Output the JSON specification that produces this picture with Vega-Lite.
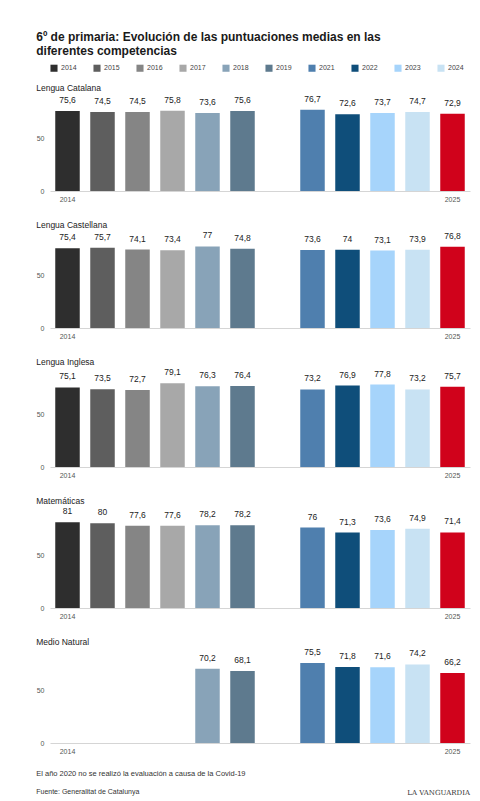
{
  "$schema": "https://vega.github.io/schema/vega-lite/v6.json",
  "background": "white",
  "padding": {"left": 36, "top": 31, "right": 4, "bottom": 0},
  "title": {
    "text": ["6º de primaria: Evolución de las puntuaciones medias en las", "diferentes competencias"],
    "anchor": "start", "fontSize": 12, "fontWeight": "bold", "font": "Liberation Sans", "color": "#1a1a1a", "lineHeight": 14, "offset": 6
  },
  "datasets": {
    "d": [
      {"comp": "Lengua Catalana", "year": "2014", "value": 75.6},
      {"comp": "Lengua Catalana", "year": "2015", "value": 74.5},
      {"comp": "Lengua Catalana", "year": "2016", "value": 74.5},
      {"comp": "Lengua Catalana", "year": "2017", "value": 75.8},
      {"comp": "Lengua Catalana", "year": "2018", "value": 73.6},
      {"comp": "Lengua Catalana", "year": "2019", "value": 75.6},
      {"comp": "Lengua Catalana", "year": "2021", "value": 76.7},
      {"comp": "Lengua Catalana", "year": "2022", "value": 72.6},
      {"comp": "Lengua Catalana", "year": "2023", "value": 73.7},
      {"comp": "Lengua Catalana", "year": "2024", "value": 74.7},
      {"comp": "Lengua Catalana", "year": "2025", "value": 72.9},
      {"comp": "Lengua Castellana", "year": "2014", "value": 75.4},
      {"comp": "Lengua Castellana", "year": "2015", "value": 75.7},
      {"comp": "Lengua Castellana", "year": "2016", "value": 74.1},
      {"comp": "Lengua Castellana", "year": "2017", "value": 73.4},
      {"comp": "Lengua Castellana", "year": "2018", "value": 77},
      {"comp": "Lengua Castellana", "year": "2019", "value": 74.8},
      {"comp": "Lengua Castellana", "year": "2021", "value": 73.6},
      {"comp": "Lengua Castellana", "year": "2022", "value": 74},
      {"comp": "Lengua Castellana", "year": "2023", "value": 73.1},
      {"comp": "Lengua Castellana", "year": "2024", "value": 73.9},
      {"comp": "Lengua Castellana", "year": "2025", "value": 76.8},
      {"comp": "Lengua Inglesa", "year": "2014", "value": 75.1},
      {"comp": "Lengua Inglesa", "year": "2015", "value": 73.5},
      {"comp": "Lengua Inglesa", "year": "2016", "value": 72.7},
      {"comp": "Lengua Inglesa", "year": "2017", "value": 79.1},
      {"comp": "Lengua Inglesa", "year": "2018", "value": 76.3},
      {"comp": "Lengua Inglesa", "year": "2019", "value": 76.4},
      {"comp": "Lengua Inglesa", "year": "2021", "value": 73.2},
      {"comp": "Lengua Inglesa", "year": "2022", "value": 76.9},
      {"comp": "Lengua Inglesa", "year": "2023", "value": 77.8},
      {"comp": "Lengua Inglesa", "year": "2024", "value": 73.2},
      {"comp": "Lengua Inglesa", "year": "2025", "value": 75.7},
      {"comp": "Matemáticas", "year": "2014", "value": 81},
      {"comp": "Matemáticas", "year": "2015", "value": 80},
      {"comp": "Matemáticas", "year": "2016", "value": 77.6},
      {"comp": "Matemáticas", "year": "2017", "value": 77.6},
      {"comp": "Matemáticas", "year": "2018", "value": 78.2},
      {"comp": "Matemáticas", "year": "2019", "value": 78.2},
      {"comp": "Matemáticas", "year": "2021", "value": 76},
      {"comp": "Matemáticas", "year": "2022", "value": 71.3},
      {"comp": "Matemáticas", "year": "2023", "value": 73.6},
      {"comp": "Matemáticas", "year": "2024", "value": 74.9},
      {"comp": "Matemáticas", "year": "2025", "value": 71.4},
      {"comp": "Medio Natural", "year": "2018", "value": 70.2},
      {"comp": "Medio Natural", "year": "2019", "value": 68.1},
      {"comp": "Medio Natural", "year": "2021", "value": 75.5},
      {"comp": "Medio Natural", "year": "2022", "value": 71.8},
      {"comp": "Medio Natural", "year": "2023", "value": 71.6},
      {"comp": "Medio Natural", "year": "2024", "value": 74.2},
      {"comp": "Medio Natural", "year": "2025", "value": 66.2}
    ]
  },
  "spacing": 18,
  "vconcat": [
    {
      "title": "Lengua Catalana",
      "width": 420, "height": 90,
      "data": {"name": "d"},
      "transform": [{"filter": "datum.comp === 'Lengua Catalana'"}],
      "encoding": {
        "x": {"field": "year", "type": "nominal", "scale": {"domain": ["2014","2015","2016","2017","2018","2019","2020","2021","2022","2023","2024","2025"], "paddingInner": 0.3, "paddingOuter": 0.15}},
        "y": {"field": "value", "type": "quantitative", "scale": {"domain": [0, 85]}, "axis": {"values": [0, 50]}}
      },
      "layer": [
        {"mark": {"type": "bar"}, "encoding": {"color": {"field": "year", "type": "nominal", "scale": {"domain": ["2014","2015","2016","2017","2018","2019","2021","2022","2023","2024","2025"], "range": ["#2e2e2e","#5e5e5e","#858585","#a8a8a8","#88a3b8","#5e7a8e","#4f7fae","#0f4e7a","#a6d4fb","#c8e2f3","#d0021b"]}, "legend": {"values": ["2014","2015","2016","2017","2018","2019","2021","2022","2023","2024"]}}}},
        {"mark": {"type": "text", "dy": -6, "baseline": "bottom", "fontSize": 8.5, "color": "#222", "font": "Liberation Sans"}, "encoding": {"text": {"field": "value", "type": "quantitative", "format": ".1~f"}}}
      ]
    },
    {
      "title": "Lengua Castellana",
      "width": 420, "height": 90,
      "data": {"name": "d"},
      "transform": [{"filter": "datum.comp === 'Lengua Castellana'"}],
      "encoding": {
        "x": {"field": "year", "type": "nominal", "scale": {"domain": ["2014","2015","2016","2017","2018","2019","2020","2021","2022","2023","2024","2025"], "paddingInner": 0.3, "paddingOuter": 0.15}},
        "y": {"field": "value", "type": "quantitative", "scale": {"domain": [0, 85]}, "axis": {"values": [0, 50]}}
      },
      "layer": [
        {"mark": {"type": "bar"}, "encoding": {"color": {"field": "year", "type": "nominal"}}},
        {"mark": {"type": "text", "dy": -6, "baseline": "bottom", "fontSize": 8.5, "color": "#222", "font": "Liberation Sans"}, "encoding": {"text": {"field": "value", "type": "quantitative", "format": ".1~f"}}}
      ]
    },
    {
      "title": "Lengua Inglesa",
      "width": 420, "height": 90,
      "data": {"name": "d"},
      "transform": [{"filter": "datum.comp === 'Lengua Inglesa'"}],
      "encoding": {
        "x": {"field": "year", "type": "nominal", "scale": {"domain": ["2014","2015","2016","2017","2018","2019","2020","2021","2022","2023","2024","2025"], "paddingInner": 0.3, "paddingOuter": 0.15}},
        "y": {"field": "value", "type": "quantitative", "scale": {"domain": [0, 85]}, "axis": {"values": [0, 50]}}
      },
      "layer": [
        {"mark": {"type": "bar"}, "encoding": {"color": {"field": "year", "type": "nominal"}}},
        {"mark": {"type": "text", "dy": -6, "baseline": "bottom", "fontSize": 8.5, "color": "#222", "font": "Liberation Sans"}, "encoding": {"text": {"field": "value", "type": "quantitative", "format": ".1~f"}}}
      ]
    },
    {
      "title": "Matemáticas",
      "width": 420, "height": 90,
      "data": {"name": "d"},
      "transform": [{"filter": "datum.comp === 'Matemáticas'"}],
      "encoding": {
        "x": {"field": "year", "type": "nominal", "scale": {"domain": ["2014","2015","2016","2017","2018","2019","2020","2021","2022","2023","2024","2025"], "paddingInner": 0.3, "paddingOuter": 0.15}},
        "y": {"field": "value", "type": "quantitative", "scale": {"domain": [0, 85]}, "axis": {"values": [0, 50]}}
      },
      "layer": [
        {"mark": {"type": "bar"}, "encoding": {"color": {"field": "year", "type": "nominal"}}},
        {"mark": {"type": "text", "dy": -6, "baseline": "bottom", "fontSize": 8.5, "color": "#222", "font": "Liberation Sans"}, "encoding": {"text": {"field": "value", "type": "quantitative", "format": ".1~f"}}}
      ]
    },
    {
      "title": {"text": "LA VANGUARDIA", "orient": "bottom", "anchor": "end", "fontSize": 7, "font": "DejaVu Serif", "fontWeight": "normal", "color": "#333", "offset": -6},
      "vconcat": [
        {
          "title": {"text": "El año 2020 no se realizó la evaluación a causa de la Covid-19", "subtitle": "Fuente: Generalitat de Catalunya", "orient": "bottom", "anchor": "start", "fontSize": 7.5, "fontWeight": "normal", "font": "Liberation Sans", "color": "#333", "subtitleFontSize": 7, "subtitleColor": "#333", "subtitleFont": "Liberation Sans", "subtitlePadding": 10, "offset": 16},
          "vconcat": [
            {
              "title": "Medio Natural",
              "width": 420, "height": 90,
              "data": {"name": "d"},
              "transform": [{"filter": "datum.comp === 'Medio Natural'"}],
              "encoding": {
                "x": {"field": "year", "type": "nominal", "scale": {"domain": ["2014","2015","2016","2017","2018","2019","2020","2021","2022","2023","2024","2025"], "paddingInner": 0.3, "paddingOuter": 0.15}},
                "y": {"field": "value", "type": "quantitative", "scale": {"domain": [0, 85]}, "axis": {"values": [0, 50]}}
              },
              "layer": [
                {"mark": {"type": "bar"}, "encoding": {"color": {"field": "year", "type": "nominal"}}},
                {"mark": {"type": "text", "dy": -6, "baseline": "bottom", "fontSize": 8.5, "color": "#222", "font": "Liberation Sans"}, "encoding": {"text": {"field": "value", "type": "quantitative", "format": ".1~f"}}}
              ]
            }
          ]
        }
      ]
    }
  ],
  "config": {
    "locale": {"number": {"decimal": ",", "thousands": ".", "grouping": [3], "currency": ["", " €"]}},
    "font": "Liberation Sans",
    "view": {"stroke": null},
    "title": {"anchor": "start", "fontSize": 8.5, "fontWeight": "normal", "color": "#222", "offset": 2, "font": "Liberation Sans"},
    "axisX": {"title": null, "labelAngle": 0, "ticks": false, "domain": true, "domainColor": "#d5d5d5", "labelFontSize": 7, "labelColor": "#555", "labelPadding": 4, "labelExpr": "datum.value == '2014' || datum.value == '2025' ? datum.value : ''"},
    "axisY": {"title": null, "grid": false, "domain": false, "ticks": false, "labelFontSize": 7, "labelColor": "#555", "labelPadding": 6},
    "legend": {"orient": "top", "direction": "horizontal", "title": null, "symbolType": "square", "symbolSize": 50, "symbolStrokeWidth": 0, "labelFontSize": 7, "labelColor": "#444", "columnPadding": 16, "symbolOffset": 0, "offset": 12, "labelOffset": 3}
  }
}
